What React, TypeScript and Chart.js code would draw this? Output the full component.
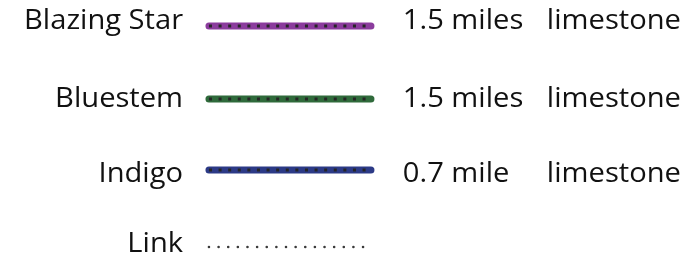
import React, { useEffect, useRef } from "react";
import { Chart, registerables } from "chart.js";
Chart.register(...registerables);

// Legend data
const trailNames = ["Blazing Star", "Bluestem", "Indigo", "Link"];
const trailDistances = ["1.5 miles", "1.5 miles", "0.7 mile", ""];
const trailSurfaces = ["limestone", "limestone", "limestone", ""];
const trailColors = ["#8b3c9d", "#2f6a3b", "#2c3a86", ""];
const lineRowY = [0, 1, 1.973, 3.027];
const textRowY = [0.041, 1.11, 2.137, 3.096];
const segmentX = [0, 1];

// column anchors in x-scale units
const nameColumnX = -0.16;
const distanceColumnX = 1.197;
const surfaceColumnX = 2.086;
const textStretch = 1.04;

const textPlugin = {
  id: "legendText",
  afterDatasetsDraw(chart: any) {
    const { ctx, scales } = chart;
    const xs = scales.x;
    const ys = scales.y;
    const put = (text: string, x: number, y: number, align: string) => {
      if (!text) return;
      ctx.save();
      ctx.translate(xs.getPixelForValue(x), ys.getPixelForValue(y));
      ctx.scale(textStretch, 1);
      ctx.textAlign = align;
      ctx.fillText(text, 0, 0);
      ctx.restore();
    };
    ctx.save();
    ctx.fillStyle = "#111111";
    ctx.font = "500 28px 'Open Sans'";
    ctx.textBaseline = "alphabetic";
    trailNames.forEach((name, i) => {
      put(name, nameColumnX, textRowY[i], "right");
      put(trailDistances[i], distanceColumnX, textRowY[i], "left");
      put(trailSurfaces[i], surfaceColumnX, textRowY[i], "left");
    });
    ctx.restore();
  },
};

export default function App() {
  const ref = useRef<HTMLCanvasElement>(null);
  useEffect(() => {
    const datasets: any[] = [];
    trailNames.forEach((name, i) => {
      const pts = segmentX.map((x) => ({ x, y: lineRowY[i] }));
      if (trailColors[i]) {
        datasets.push({
          label: name,
          data: pts,
          borderColor: trailColors[i],
          borderWidth: 7,
          borderCapStyle: "round",
          pointRadius: 0,
          order: 2,
        });
        datasets.push({
          label: name + " dots",
          data: pts,
          borderColor: "#262626",
          borderWidth: 3,
          borderDash: [3, 6.6],
          borderCapStyle: "butt",
          pointRadius: 0,
          order: 1,
        });
      } else {
        datasets.push({
          label: name,
          data: pts,
          borderColor: "#3a3a3a",
          borderWidth: 2.6,
          borderDash: [0.01, 9.62],
          borderCapStyle: "round",
          pointRadius: 0,
          order: 1,
        });
      }
    });
    const chart = new Chart(ref.current!, {
      type: "line",
      data: { datasets },
      options: {
        animation: false,
        responsive: false,
        layout: { padding: 0 },
        plugins: { legend: { display: false }, tooltip: { enabled: false } },
        scales: {
          x: { type: "linear", display: false, min: -1.29, max: 3.019 },
          y: { type: "linear", display: false, reverse: true, min: -0.356, max: 3.343 },
        },
      },
      plugins: [textPlugin],
    });
    return () => chart.destroy();
  }, []);
  return (
    <div style={{ position: "absolute", left: 0, top: 0, width: 698, height: 270, background: "#fff" }}>
      <canvas ref={ref} width={698} height={270} />
    </div>
  );
}
